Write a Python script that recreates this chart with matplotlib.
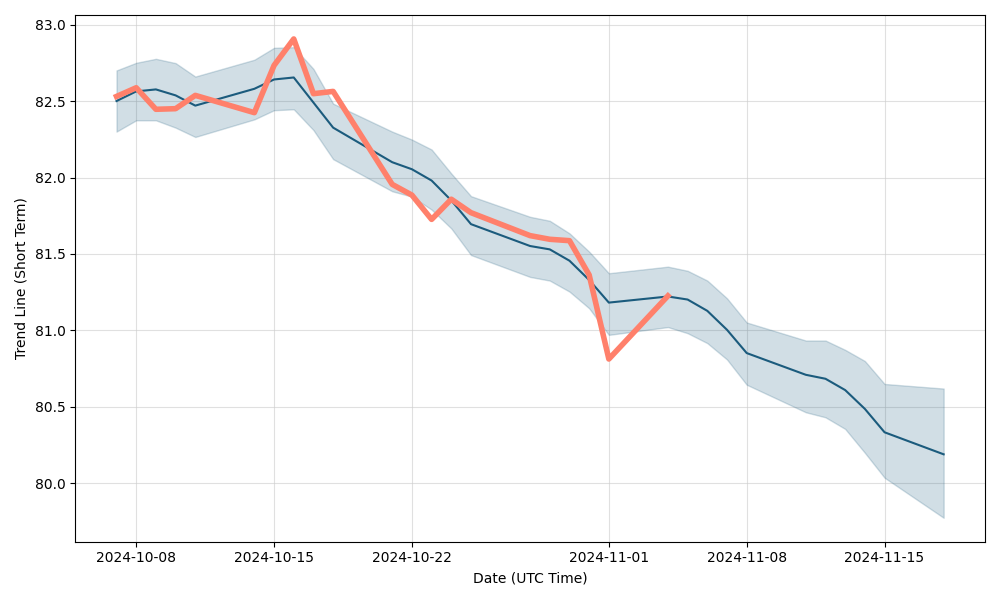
"""Short-term trend line with confidence band vs. actual price."""
import matplotlib

matplotlib.use("Agg")
import matplotlib.pyplot as plt
import pandas as pd

# business days covered by the trend
dates = [
    "2024-10-07", "2024-10-08", "2024-10-09", "2024-10-10", "2024-10-11",
    "2024-10-14", "2024-10-15", "2024-10-16", "2024-10-17", "2024-10-18",
    "2024-10-21", "2024-10-22", "2024-10-23", "2024-10-24", "2024-10-25",
    "2024-10-28", "2024-10-29", "2024-10-30", "2024-10-31", "2024-11-01",
    "2024-11-04", "2024-11-05", "2024-11-06", "2024-11-07", "2024-11-08",
    "2024-11-11", "2024-11-12", "2024-11-13", "2024-11-14", "2024-11-15",
    "2024-11-18",
]
trend = [
    82.50, 82.563, 82.576, 82.537, 82.47,
    82.58, 82.641, 82.654, 82.49, 82.326,
    82.10, 82.054, 81.98, 81.85, 81.695,
    81.552, 81.53, 81.456, 81.33, 81.182,
    81.222, 81.202, 81.128, 81.004, 80.852,
    80.71, 80.684, 80.61, 80.487, 80.334,
    80.19,
]
upper = [
    82.70, 82.75, 82.776, 82.748, 82.66,
    82.77, 82.848, 82.852, 82.71, 82.483,
    82.30, 82.248, 82.183, 82.026, 81.878,
    81.743, 81.717, 81.635, 81.515, 81.374,
    81.417, 81.39, 81.326, 81.21, 81.052,
    80.934, 80.934, 80.873, 80.80, 80.65,
    80.62,
]
lower = [
    82.30, 82.374, 82.374, 82.326, 82.265,
    82.38, 82.44, 82.446, 82.31, 82.12,
    81.91, 81.875, 81.79, 81.667, 81.493,
    81.35, 81.326, 81.254, 81.145, 80.971,
    81.022, 80.982, 80.917, 80.81, 80.645,
    80.465, 80.432, 80.356, 80.20, 80.037,
    79.775,
]
# actual closes (available up to 2024-11-04)
actual = [
    82.53, 82.587, 82.446, 82.45, 82.537,
    82.424, 82.733, 82.906, 82.548, 82.563,
    81.955, 81.885, 81.726, 81.858, 81.77,
    81.62, 81.596, 81.587, 81.363, 80.813,
    81.226,
]

x = pd.to_datetime(dates)

BLUE = "#1b5b7d"
SALMON = "#ff806b"

fig, ax = plt.subplots(figsize=(10, 6), dpi=100)
ax.fill_between(x, lower, upper, color=BLUE, alpha=0.2)
ax.plot(x, trend, color=BLUE, linewidth=1.5)
ax.plot(x[: len(actual)], actual, color=SALMON, linewidth=4)

ax.grid(True, color="#cccccc", alpha=0.6, linewidth=0.8)
ax.set_axisbelow(True)
ax.set_xlabel("Date (UTC Time)")
ax.set_ylabel("Trend Line (Short Term)")

fig.tight_layout()
fig.savefig("out.png", dpi=100)
